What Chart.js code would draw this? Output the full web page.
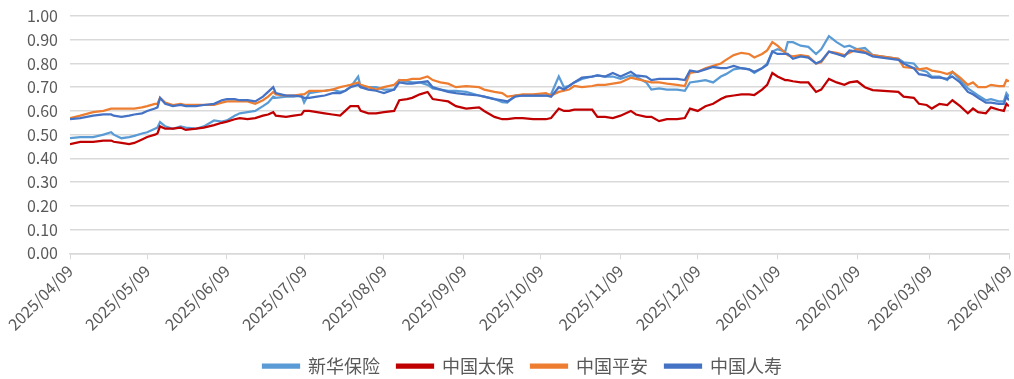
<!DOCTYPE html>
<html>
<head>
<meta charset="utf-8">
<script src="https://cdn.jsdelivr.net/npm/chart.js@4.4.1/dist/chart.umd.min.js"></script>
<style>
  body { margin: 0; background: #fff; }
  #wrap { width: 1014px; height: 379px; }
</style>
</head>
<body>
<div id="wrap"><canvas id="myChart"></canvas></div>
<script>
// days counted from 2025/04/09
const days = [0,4,9,13,16,17,20,23,25,28,
  30,33,34,35,37,40,43,45,49,52,
  56,59,61,64,66,69,72,75,77,79,
  80,84,87,90,91,93,96,99,102,105,
  107,109,112,113,116,119,122,126,128,131,
  133,136,139,141,144,147,150,154,159,161,
  165,168,170,173,176,180,185,187,190,192,
  194,196,199,203,205,208,211,214,218,220,
  224,226,229,232,236,239,241,244,247,250,
  253,255,258,261,264,266,269,271,273,275,
  278,279,281,284,287,290,292,295,298,301,
  303,306,309,312,322,324,328,330,333,335,
  338,341,343,346,349,351,353,356,358,361,
  363,364,365];

const xinhua = [.485,.49,.49,.50,.51,.50,.485,.49,.495,.505,
  .51,.525,.53,.553,.535,.525,.535,.53,.525,.535,
  .56,.555,.56,.58,.59,.595,.60,.62,.635,.66,
  .655,.66,.66,.665,.635,.675,.68,.685,.69,.68,
  .685,.70,.745,.70,.70,.70,.69,.69,.73,.725,
  .72,.72,.71,.695,.69,.685,.685,.68,.665,.66,
  .65,.637,.635,.665,.665,.665,.665,.67,.745,.70,
  .705,.72,.735,.745,.75,.745,.745,.735,.75,.745,
  .72,.69,.695,.69,.69,.685,.72,.725,.73,.72,
  .745,.755,.775,.78,.775,.76,.78,.80,.85,.86,
  .85,.89,.89,.875,.87,.84,.86,.915,.89,.87,
  .875,.86,.865,.835,.82,.805,.80,.775,.765,.745,
  .745,.73,.765,.73,.695,.68,.665,.645,.65,.64,
  .64,.675,.66];

const taibao = [.46,.47,.47,.475,.475,.47,.465,.46,.465,.48,
  .49,.50,.505,.535,.525,.525,.53,.52,.525,.53,
  .54,.55,.555,.565,.57,.565,.57,.58,.585,.595,
  .58,.575,.58,.585,.60,.60,.595,.59,.585,.58,
  .60,.62,.62,.60,.59,.59,.595,.60,.645,.65,
  .655,.67,.68,.65,.645,.64,.62,.61,.615,.60,
  .575,.565,.565,.57,.57,.565,.565,.57,.61,.60,
  .60,.605,.605,.605,.575,.575,.57,.58,.60,.585,
  .575,.575,.557,.565,.565,.57,.61,.60,.62,.63,
  .65,.66,.665,.67,.67,.667,.69,.71,.76,.745,
  .73,.73,.725,.72,.72,.68,.69,.735,.72,.71,
  .72,.725,.70,.688,.68,.66,.655,.63,.625,.61,
  .63,.625,.645,.62,.59,.61,.595,.59,.615,.605,
  .60,.63,.62];

const pingan = [.57,.58,.595,.60,.61,.61,.61,.61,.61,.615,
  .62,.63,.63,.655,.635,.625,.63,.625,.625,.625,
  .625,.635,.64,.64,.64,.64,.63,.645,.66,.68,
  .67,.665,.665,.67,.67,.685,.685,.685,.69,.70,
  .705,.71,.72,.71,.70,.69,.70,.71,.73,.73,
  .735,.735,.745,.73,.72,.715,.70,.705,.70,.69,
  .68,.675,.66,.665,.67,.67,.675,.665,.68,.685,
  .69,.705,.70,.705,.71,.71,.715,.72,.74,.735,
  .725,.72,.72,.715,.71,.705,.76,.765,.78,.79,
  .80,.815,.835,.845,.84,.825,.84,.855,.89,.875,
  .845,.835,.83,.835,.83,.80,.805,.85,.845,.835,
  .845,.86,.85,.835,.82,.785,.78,.775,.78,.77,
  .765,.755,.765,.74,.71,.72,.70,.70,.71,.705,
  .705,.73,.725];

const renshou = [.565,.57,.58,.585,.585,.58,.575,.58,.585,.59,
  .60,.61,.615,.655,.63,.62,.625,.62,.62,.625,
  .63,.645,.65,.65,.645,.645,.64,.66,.68,.70,
  .675,.665,.665,.66,.655,.655,.66,.665,.675,.675,
  .685,.70,.71,.70,.69,.685,.675,.69,.72,.715,
  .715,.72,.725,.70,.69,.68,.675,.67,.665,.66,
  .65,.645,.64,.66,.665,.665,.665,.66,.70,.69,
  .705,.72,.74,.745,.75,.745,.76,.745,.765,.75,
  .745,.73,.735,.735,.735,.73,.77,.765,.775,.785,
  .78,.78,.79,.78,.775,.765,.78,.795,.85,.84,
  .84,.84,.82,.83,.825,.80,.81,.85,.84,.83,
  .855,.85,.845,.83,.815,.80,.78,.755,.75,.74,
  .74,.735,.745,.72,.68,.67,.655,.635,.635,.63,
  .63,.66,.645];

const tickDays = [0,30,61,91,122,153,183,214,244,275,306,334,365];
const tickLabels = ['2025/04/09','2025/05/09','2025/06/09','2025/07/09','2025/08/09','2025/09/09',
  '2025/10/09','2025/11/09','2025/12/09','2026/01/09','2026/02/09','2026/03/09','2026/04/09'];

const names = ['新华保险','中国太保','中国平安','中国人寿'];
const colors = ['#5B9BD5','#C00000','#ED7D31','#4472C4'];
const series = [xinhua, taibao, pingan, renshou];

const fontFamily = '"Noto Sans CJK SC", "Liberation Sans", sans-serif';

let datasets = [];
for (let s = 0; s < series.length; s++) {
  datasets.push({
    label: names[s],
    data: days.map((d, i) => ({ x: d, y: series[s][i] })),
    borderColor: colors[s],
    backgroundColor: colors[s],
    borderWidth: 2.25,
    pointRadius: 0,
    tension: 0,
    order: series.length - s
  });
}

// nudge the legend a bit to the right, like the original
const legendShift = {
  id: 'legendShift',
  afterLayout(chart) {
    chart.legend.left += 18;
    chart.legend.right += 18;
  }
};

const ctx = document.getElementById('myChart');
new Chart(ctx, {
  type: 'line',
  data: { datasets: datasets },
  plugins: [legendShift],
  options: {
    responsive: true,
    maintainAspectRatio: false,
    animation: false,
    layout: { padding: { left: 0, right: 5, top: 16, bottom: -6 } },
    plugins: {
      tooltip: { enabled: false },
      legend: {
        position: 'bottom',
        labels: {
          boxWidth: 36,
          boxHeight: 3,
          padding: 17,
          color: '#595959',
          font: { family: fontFamily, size: 18 },
          sort: (a, b) => a.datasetIndex - b.datasetIndex
        }
      }
    },
    scales: {
      x: {
        type: 'linear',
        min: 0,
        max: 365,
        afterBuildTicks: (scale) => {
          scale.ticks = tickDays.map(v => ({ value: v }));
        },
        afterFit: (scale) => {
          scale.paddingLeft = 0;
          scale.paddingRight = 0;
          scale.height = scale.height + 4;
        },
        ticks: {
          autoSkip: false,
          minRotation: 45,
          maxRotation: 45,
          color: '#595959',
          font: { family: fontFamily, size: 16 },
          padding: 2,
          callback: (value) => tickLabels[tickDays.indexOf(value)]
        },
        grid: {
          drawOnChartArea: false,
          drawTicks: true,
          tickLength: 6,
          color: '#d9d9d9'
        },
        border: { color: '#d9d9d9', width: 1.5 }
      },
      y: {
        min: 0,
        max: 1,
        afterFit: (scale) => {
          scale.width = 70;
          scale.paddingTop = 0;
          scale.paddingBottom = 0;
        },
        ticks: {
          stepSize: 0.1,
          color: '#595959',
          padding: 12,
          font: { family: fontFamily, size: 16 },
          callback: (value) => value.toFixed(2)
        },
        grid: {
          drawTicks: false,
          color: '#d9d9d9',
          lineWidth: 1.5
        },
        border: { display: false }
      }
    }
  }
});
</script>
</body>
</html>
